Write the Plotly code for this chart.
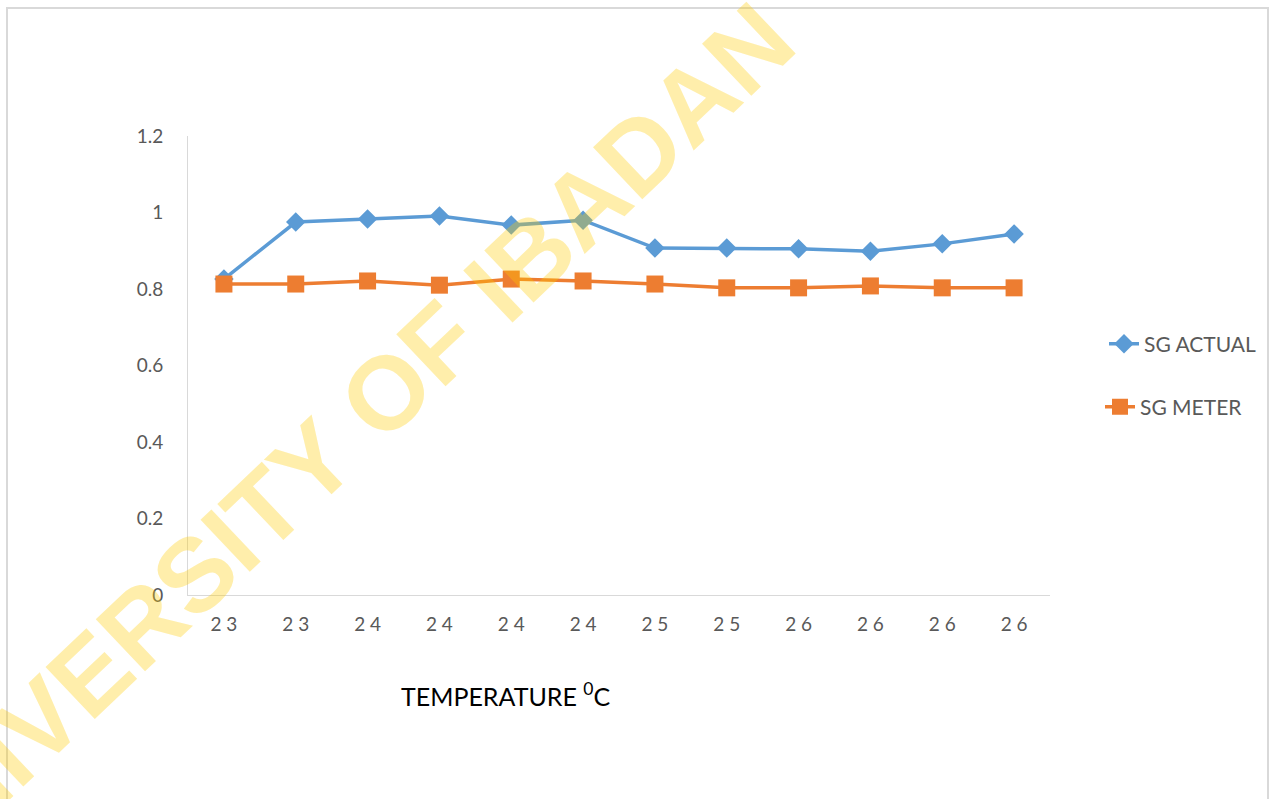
import plotly.graph_objects as go

x_labels = ["23", "23", "24", "24", "24", "24", "25", "25", "26", "26", "26", "26"]
sg_actual = [0.826, 0.975, 0.983, 0.991, 0.967, 0.980, 0.907, 0.907, 0.905, 0.899, 0.918, 0.944]
sg_meter = [0.813, 0.813, 0.821, 0.810, 0.826, 0.821, 0.813, 0.803, 0.803, 0.808, 0.803, 0.803]
y_ticks = [0, 0.2, 0.4, 0.6, 0.8, 1.0, 1.2]
y_ticktext = ["0", "0.2", "0.4", "0.6", "0.8", "1", "1.2"]

xs = list(range(len(x_labels)))
tick_font = dict(family="Lato, Open Sans, sans-serif", size=19, color="#595959")

fig = go.Figure()
fig.add_trace(go.Scatter(
    x=xs, y=sg_actual, mode="lines+markers", name="SG ACTUAL",
    line=dict(color="#5B9BD5", width=3.5),
    marker=dict(symbol="diamond", size=15, color="#5B9BD5"),
    legend="legend",
))
fig.add_trace(go.Scatter(
    x=xs, y=sg_meter, mode="lines+markers", name="SG METER",
    line=dict(color="#ED7D31", width=3.5),
    marker=dict(symbol="square", size=17, color="#ED7D31"),
    legend="legend2",
))

W, H = 1277, 799
L, R, T, B = 188, 1050, 136, 595

def px(x):
    return (x - L) / (R - L)

def py(y):
    return (B - y) / (B - T)

legend_font = dict(family="Lato, Open Sans, sans-serif", size=21, color="#595959")

fig.update_layout(
    width=W, height=H,
    margin=dict(l=L, r=W - R, t=T, b=H - B, autoexpand=False),
    paper_bgcolor="white", plot_bgcolor="white",
    font=dict(family="Lato, Open Sans, sans-serif"),
    xaxis=dict(
        range=[-0.5, len(xs) - 0.5], tickvals=xs,
        ticktext=[l[0] + " " + l[1] for l in x_labels],
        showgrid=False, zeroline=False, showline=True, linecolor="#D9D9D9", linewidth=1,
        ticks="", tickfont=tick_font, ticklabelstandoff=12, fixedrange=True,
    ),
    yaxis=dict(
        range=[0, 1.2], tickvals=y_ticks, ticktext=y_ticktext,
        showgrid=False, zeroline=False, showline=True, linecolor="#D9D9D9", linewidth=1,
        ticks="", tickfont=tick_font, ticklabelstandoff=20, fixedrange=True,
    ),
    legend=dict(
        xref="container", yref="container", x=1104 / W, y=1 - 344 / H,
        xanchor="left", yanchor="middle", bgcolor="rgba(0,0,0,0)",
        font=legend_font,
    ),
    legend2=dict(
        xref="container", yref="container", x=1100 / W, y=1 - 407 / H,
        xanchor="left", yanchor="middle", bgcolor="rgba(0,0,0,0)",
        font=legend_font,
    ),
    showlegend=True,
)

# chart border
fig.add_shape(type="rect", xref="paper", yref="paper",
              x0=px(7), x1=px(1268), y0=py(810), y1=py(8),
              line=dict(color="#D9D9D9", width=2), fillcolor="rgba(0,0,0,0)", layer="below")

# axis title
fig.add_annotation(
    xref="paper", yref="paper", x=px(506), y=py(694),
    text="TEMPERATURE <sup>0</sup>C", showarrow=False, xanchor="center", yanchor="middle",
    font=dict(family="Lato, Open Sans, sans-serif", size=25, color="#000000"),
)

# watermark
fig.add_annotation(
    xref="paper", yref="paper", x=px(330), y=py(446),
    text="<b>UNIVERSITY OF IBADAN</b>", showarrow=False, textangle=-43.5,
    xanchor="center", yanchor="middle",
    font=dict(family="Liberation Sans, Arial, sans-serif", size=104, color="rgba(255,204,0,0.33)"),
)

fig.write_html("out.html", config={"displayModeBar": False},
               post_script="document.body.style.margin='0';")
